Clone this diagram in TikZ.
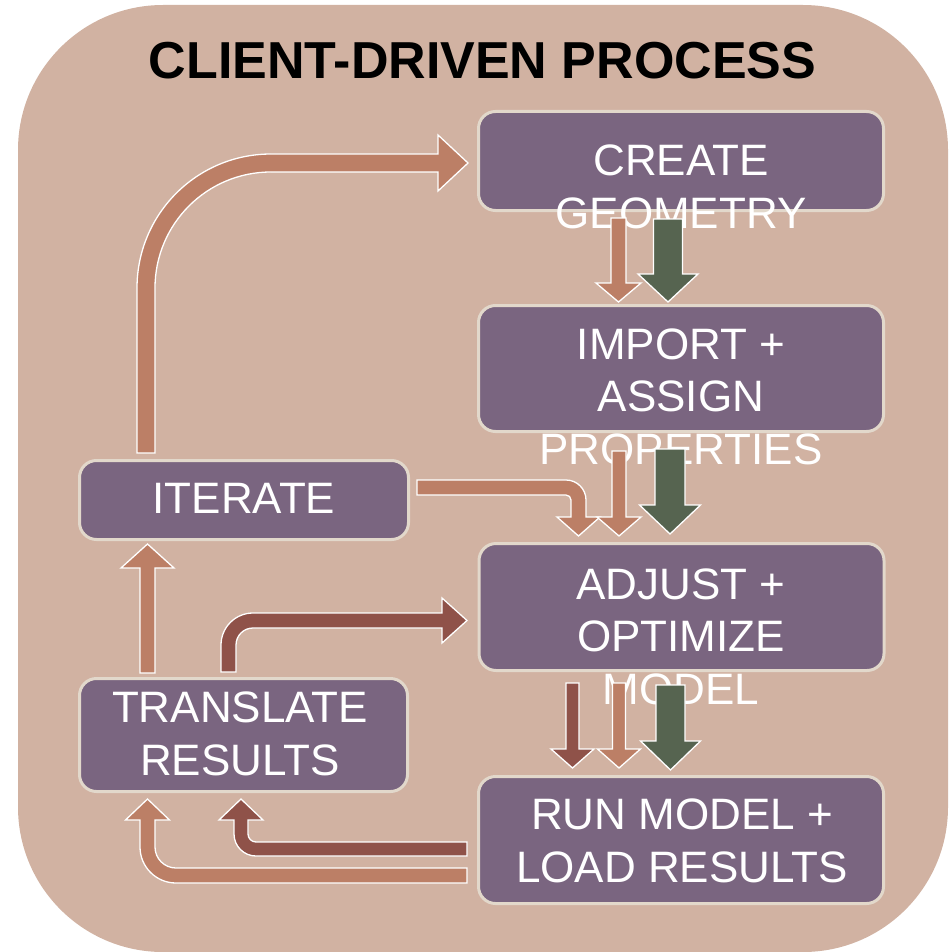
\documentclass[tikz,border=0pt]{standalone}
\usepackage{fontspec}
\setmainfont{Liberation Sans}
\definecolor{paneltan}{HTML}{D1B2A2}
\definecolor{boxplum}{HTML}{7A6580}
\definecolor{boxrim}{HTML}{E2D8CB}
\definecolor{clay}{HTML}{BC7F66}
\definecolor{rust}{HTML}{8F5249}
\definecolor{moss}{HTML}{566450}

% straight block arrow: colour, centre x, shaft half width, head half width,
% tail y, head base y, tip y
\newcommand\blockarrowv[7]{%
  \filldraw[arrowrim, fill=#1]
    (#2-#3,#5) -- (#2-#3,#6) -- (#2-#4,#6) -- (#2,#7)
    -- (#2+#4,#6) -- (#2+#3,#6) -- (#2+#3,#5) -- cycle;}

\begin{document}
\begin{tikzpicture}[x=1pt,y=-1pt,
  box/.style={draw=boxrim, line width=3pt, fill=boxplum, rounded corners=17pt,
    inner sep=0pt},
  boxtext/.style={text=white, align=center, inner sep=0pt,
    font=\fontsize{44}{52.5}\selectfont},
  titletext/.style={text=black, inner sep=0pt,
    font=\fontsize{52}{60}\selectfont\bfseries},
  arrowrim/.style={draw=white, line width=1.3pt, line join=miter}]

\useasboundingbox (0,0) rectangle (950,952);

% rounded panel behind everything
\fill[paneltan, rounded corners=145pt] (18,5) rectangle (948,952);

\node[titletext, anchor=base] (title) at (482.5,79) {CLIENT-DRIVEN PROCESS};

% process boxes
\node[box, minimum width=405pt, minimum height=99pt]  (create)    at (681,161)   {};
\node[box, minimum width=405pt, minimum height=126pt] (import)    at (681,368.5) {};
\node[box, minimum width=405pt, minimum height=127pt] (adjust)    at (681.5,607) {};
\node[box, minimum width=405pt, minimum height=127pt] (run)       at (681,840)   {};
\node[box, minimum width=329pt, minimum height=79pt]  (iterate)   at (244,500)   {};
\node[box, minimum width=328pt, minimum height=113pt] (translate) at (243.5,735) {};

% box captions, placed by the baseline of their last line
% (the longer ones run past the box edges)
\node[boxtext, anchor=base] (createT)    at (681,228) {CREATE\\GEOMETRY};
\node[boxtext, anchor=base] (importT)    at (681,464) {IMPORT +\\ASSIGN\\PROPERTIES};
\node[boxtext, anchor=base] (adjustT)    at (681,704) {ADJUST +\\OPTIMIZE\\MODEL};
\node[boxtext, anchor=base] (runT)       at (682,882) {RUN MODEL +\\LOAD RESULTS};
\node[boxtext, anchor=base] (iterateT)   at (244,513) {ITERATE};
\node[boxtext, anchor=base] (translateT) at (240,775) {TRANSLATE\\RESULTS};

% ITERATE -> CREATE GEOMETRY (long bent arrow)
\filldraw[arrowrim, fill=clay]
  (137,453) -- (137,288) arc[start angle=180, end angle=270, radius=134]
  -- (438,154) -- (438,135) -- (468,163) -- (438,191) -- (438,172) -- (271,172)
  arc[start angle=270, end angle=180, radius=116] -- (155,453) -- cycle;

% ITERATE -> ADJUST
\filldraw[arrowrim, fill=clay]
  (417,480) -- (566,480) arc[start angle=270, end angle=360, radius=20]
  -- (586,517) -- (600,517) -- (578.5,536) -- (557,517) -- (571,517) -- (571,500)
  arc[start angle=0, end angle=-90, radius=5] -- (417,495) -- cycle;

% TRANSLATE -> ADJUST
\filldraw[arrowrim, fill=rust]
  (221,672) -- (221,645) arc[start angle=180, end angle=270, radius=32]
  -- (442,613) -- (442,598) -- (467,620.5) -- (442,643) -- (442,628) -- (253,628)
  arc[start angle=270, end angle=180, radius=17] -- (236,672) -- cycle;

% RUN -> TRANSLATE (inner)
\filldraw[arrowrim, fill=rust]
  (467,842) -- (256,842) arc[start angle=90, end angle=180, radius=8]
  -- (248,820) -- (263,820) -- (241,799) -- (219,820) -- (234,820) -- (234,834)
  arc[start angle=180, end angle=90, radius=22] -- (467,856) -- cycle;

% RUN -> TRANSLATE (outer)
\filldraw[arrowrim, fill=clay]
  (467,868) -- (176,868) arc[start angle=90, end angle=180, radius=21]
  -- (155,820) -- (169.5,820) -- (147.5,799) -- (125.5,820) -- (140,820) -- (140,847)
  arc[start angle=180, end angle=90, radius=36] -- (467,883) -- cycle;

% straight arrows
\blockarrowv{clay}{618.5}{7.5}{22.5}{218}{283}{302}
\blockarrowv{moss}{668}{14.5}{30}{219}{274}{302}
\blockarrowv{clay}{619}{7}{22}{451}{517}{536}
\blockarrowv{moss}{670}{15}{30.5}{449}{505}{534}
\blockarrowv{rust}{572.5}{6.5}{21.5}{683}{749}{768}
\blockarrowv{clay}{619}{6.5}{21.5}{683}{749}{768}
\blockarrowv{moss}{670.5}{14.5}{30}{685}{741}{770}
\blockarrowv{clay}{147.5}{7.5}{26.5}{673}{568}{544}

\end{tikzpicture}
\end{document}
